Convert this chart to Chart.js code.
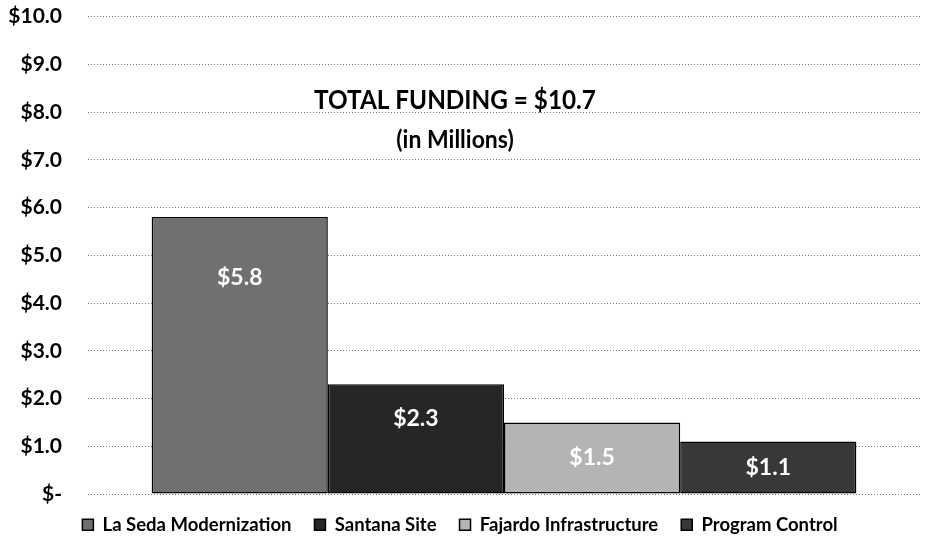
<!DOCTYPE html>
<html><head><meta charset="utf-8">
<script src="https://cdn.jsdelivr.net/npm/chart.js@4/dist/chart.umd.min.js"></script>
<style>html,body{margin:0;padding:0;background:#fff}#wrap{width:925px;height:536px}</style>
</head><body><div id="wrap"><canvas id="c" width="925" height="536"></canvas></div>
<script>
const categories = [""];
const seriesNames = ["La Seda Modernization", "Santana Site", "Fajardo Infrastructure", "Program Control"];
const seriesValues = [5.8, 2.3, 1.5, 1.1];
const seriesColors = ["#707070", "#262626", "#b4b4b4", "#383838"];
const valueLabels = ["$5.8", "$2.3", "$1.5", "$1.1"];
const labelOffsets = [60, 34, 35, 26];
const titleLines = ["TOTAL FUNDING = $10.7", "(in Millions)"];

const FONT = "Lato, 'Open Sans', sans-serif";

const overlay = {
  id: 'overlay',
  afterInit(chart) {
    const lg = chart.legend;
    if (!lg) return;
    const origFit = lg.fit.bind(lg);
    lg.fit = function () { origFit(); this.height = 34; };
    const origDraw = lg._draw.bind(lg);
    lg._draw = function () {
      const t = this.top; this.top = t - 9.5; origDraw(); this.top = t;
    };
  },
  afterDatasetsDraw(chart) {
    const ctx = chart.ctx;
    ctx.save();
    ctx.fillStyle = '#fff';
    ctx.font = 'bold 23px ' + FONT;
    ctx.textAlign = 'center';
    ctx.textBaseline = 'middle';
    chart.data.datasets.forEach((ds, i) => {
      const el = chart.getDatasetMeta(i).data[0];
      ctx.fillText(valueLabels[i], el.x, el.y + labelOffsets[i]);
    });
    ctx.fillStyle = '#000';
    ctx.save();
    ctx.translate(455, 100);
    ctx.scale(0.9, 1);
    ctx.font = 'bold 27px ' + FONT;
    ctx.fillText(titleLines[0], 0, 0);
    ctx.restore();
    ctx.save();
    ctx.translate(455, 140);
    ctx.scale(0.92, 1);
    ctx.font = 'bold 25px ' + FONT;
    ctx.fillText(titleLines[1], 0, 0);
    ctx.restore();
    ctx.restore();
  }
};

new Chart(document.getElementById('c'), {
  type: 'bar',
  data: {
    labels: categories,
    datasets: seriesNames.map((n, i) => ({
      label: n,
      data: [seriesValues[i]],
      backgroundColor: seriesColors[i],
      borderColor: '#000',
      borderWidth: 1.5,
      borderSkipped: false,
      barPercentage: 1.0,
      categoryPercentage: 0.847
    }))
  },
  options: {
    responsive: false,
    animation: false,
    layout: { padding: { top: 0, right: 5, left: 0, bottom: 0 } },
    scales: {
      x: {
        grid: { display: false },
        border: { display: false },
        ticks: { display: false }
      },
      y: {
        min: 0, max: 10,
        afterFit: s => { s.width = 88; },
        ticks: {
          stepSize: 1,
          padding: 4,
          color: '#000',
          font: { family: FONT, size: 21, weight: 'bold' },
          callback: v => v === 0 ? '$-' : '$' + v.toFixed(1)
        },
        grid: { color: '#7a7a7a', lineWidth: 1, drawTicks: true, tickLength: 22, tickColor: 'rgba(0,0,0,0)' },
        border: { display: false, dash: [1, 2] }
      }
    },
    plugins: {
      legend: {
        position: 'bottom',
        labels: {
          boxWidth: 11, boxHeight: 11,
          color: '#000',
          padding: 23,
          font: { family: FONT, size: 18.5, weight: 'bold' }
        }
      },
      tooltip: { enabled: false }
    }
  },
  plugins: [overlay]
});
</script></body></html>
